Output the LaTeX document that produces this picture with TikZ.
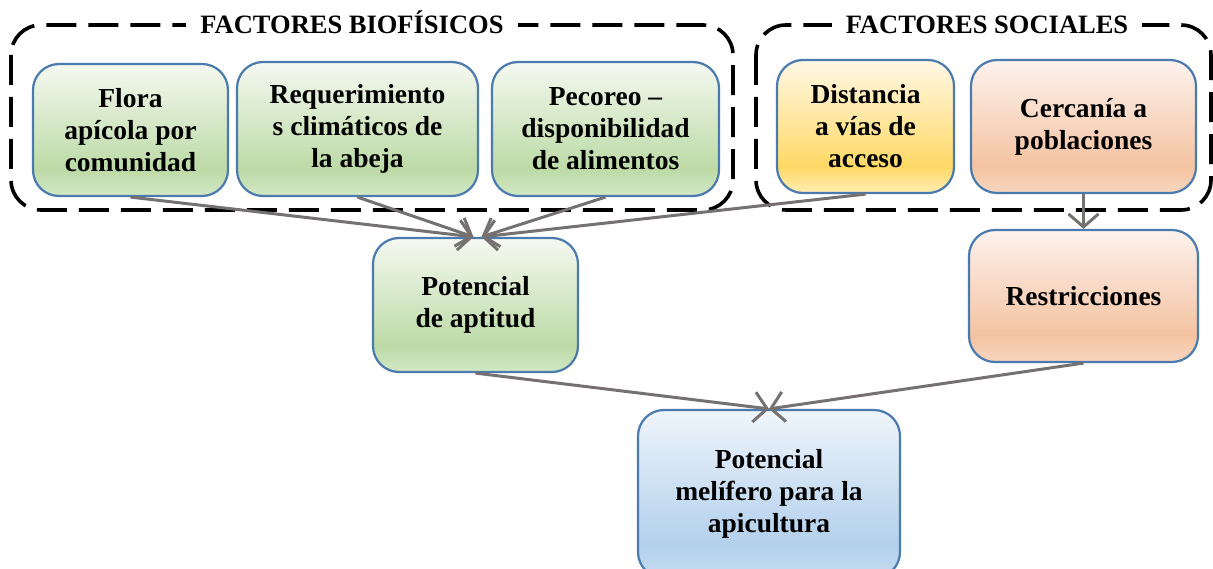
\documentclass[tikz,border=0pt]{standalone}
\usepackage{fontspec}
\setmainfont{Liberation Serif}
\usetikzlibrary{arrows.meta}
\definecolor{gtop}{HTML}{F5F9F1}\definecolor{gmid}{HTML}{BCDAA6}\definecolor{gbot}{HTML}{D3E8C6}
\definecolor{ytop}{HTML}{FFF8E6}\definecolor{ymid}{HTML}{FFD966}\definecolor{ybot}{HTML}{FFEDB3}
\definecolor{otop}{HTML}{FDF2EE}\definecolor{omid}{HTML}{F4C3A1}\definecolor{obot}{HTML}{F8D6C0}
\definecolor{btop}{HTML}{EFF5FB}\definecolor{bmid}{HTML}{B3D0EC}\definecolor{bbot}{HTML}{C5DCF1}
\definecolor{bordc}{HTML}{4A7AAE}
\definecolor{arrc}{HTML}{767171}
\pgfdeclareverticalshading{gshade}{100bp}{color(0bp)=(gbot); color(25bp)=(gbot); color(35bp)=(gmid); color(75bp)=(gtop); color(100bp)=(gtop)}
\pgfdeclareverticalshading{yshade}{100bp}{color(0bp)=(ybot); color(25bp)=(ybot); color(35bp)=(ymid); color(75bp)=(ytop); color(100bp)=(ytop)}
\pgfdeclareverticalshading{oshade}{100bp}{color(0bp)=(obot); color(25bp)=(obot); color(35bp)=(omid); color(75bp)=(otop); color(100bp)=(otop)}
\pgfdeclareverticalshading{bshade}{100bp}{color(0bp)=(bbot); color(25bp)=(bbot); color(35bp)=(bmid); color(75bp)=(btop); color(100bp)=(btop)}
\tikzset{
  boxbase/.style={draw=bordc, line width=2.2pt, rounded corners=26pt, align=center,
    font=\fontsize{27.5}{32}\selectfont\bfseries, inner sep=0pt,
    execute at begin node={\vspace*{5pt}}},
  gbox/.style={boxbase, shading=gshade},
  ybox/.style={boxbase, shading=yshade},
  obox/.style={boxbase, shading=oshade},
  bbox/.style={boxbase, shading=bshade},
  grp/.style={draw=black, line width=3.6pt, dash pattern=on 30pt off 12pt, rounded corners=30pt},
  grptitle/.style={fill=white, font=\fontsize{26.5}{30}\selectfont\bfseries, inner xsep=14pt, inner ysep=3pt, anchor=base},
  conn/.style={draw=arrc, line width=3pt, -{Straight Barb[length=13pt,width=30pt,line width=3pt]}}
}
\begin{document}
\begin{tikzpicture}[x=1pt,y=-1pt]
\useasboundingbox (0,0) rectangle (1213,569);
% group frames
\draw[grp] (11,25) rectangle (733,210);
\draw[grp] (756,25) rectangle (1211,210);
\node[grptitle] (tbio) at (352,34) {FACTORES BIOFÍSICOS};
\node[grptitle] (tsoc) at (987,34) {FACTORES SOCIALES};
% boxes
\node[gbox, minimum width=195pt, minimum height=132pt] (flora) at (130.5,130) {Flora\\apícola por\\comunidad};
\node[gbox, minimum width=241pt, minimum height=134pt] (req) at (357.5,129) {Requerimiento\\s climáticos de\\la abeja};
\node[gbox, minimum width=227pt, minimum height=134pt] (pec) at (605.5,129) {Pecoreo --\\disponibilidad\\de alimentos};
\node[ybox, minimum width=177pt, minimum height=133pt] (dist) at (865.5,126.5) {Distancia\\a vías de\\acceso};
\node[obox, minimum width=225pt, minimum height=133pt] (cerc) at (1083.5,126.5) {Cercanía a\\poblaciones};
\node[obox, minimum width=229pt, minimum height=132pt] (rest) at (1083.5,296) {Restricciones};
\node[gbox, minimum width=205pt, minimum height=134pt] (apt) at (475.5,305) {Potencial\\de aptitud};
\node[bbox, minimum width=262pt, minimum height=168pt] (mel) at (769,494) {Potencial\\melífero para la\\apicultura};
% connectors
\coordinate (aptL) at ([xshift=-2pt]apt.north);
\coordinate (aptR) at ([xshift=6pt]apt.north);
\draw[conn] (flora.south) -- (aptL);
\draw[conn] (req.south) -- (aptL);
\draw[conn] (pec.south) -- (aptR);
\draw[conn] (dist.south) -- (aptR);
\draw[conn] (cerc.south) -- (rest.north);
\draw[conn] (apt.south) -- (mel.north);
\draw[conn] (rest.south) -- (mel.north);
\end{tikzpicture}
\end{document}
